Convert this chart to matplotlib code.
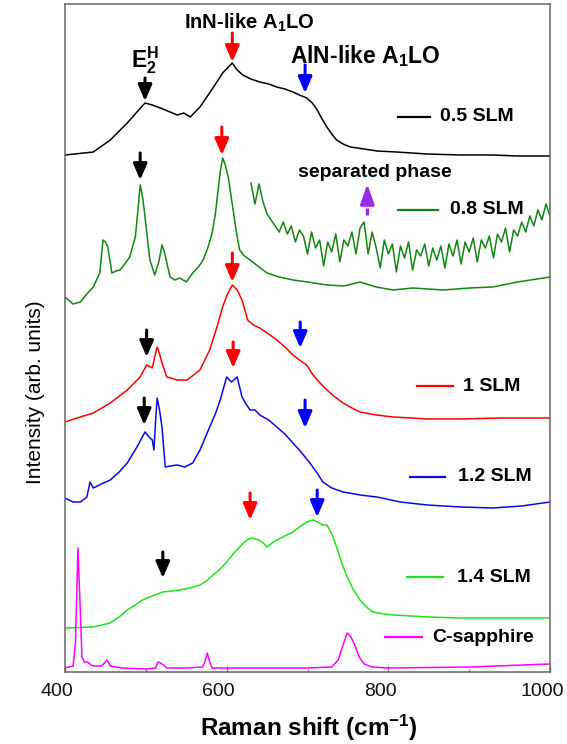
import matplotlib
matplotlib.use('Agg')
import matplotlib.pyplot as plt
import matplotlib.transforms as mtransforms

plt.rcParams['font.family'] = ['Liberation Sans', 'DejaVu Sans']
plt.rcParams['mathtext.fontset'] = 'custom'
plt.rcParams['mathtext.rm'] = 'Liberation Sans'
plt.rcParams['mathtext.bf'] = 'Liberation Sans:bold'
plt.rcParams['mathtext.it'] = 'Liberation Sans:italic'

# ---------------- data (Raman shift in cm^-1, stacked intensity in arb. units) -------------
wn_05 = [400, 435, 456, 477, 489, 499, 508, 518, 530, 539, 547, 555, 567, 583, 595, 607,
         613, 620, 630, 641, 652, 662, 672, 682, 690, 699, 706, 712, 718, 724, 730, 736,
         744, 753, 770, 786, 810, 848, 890, 929, 960, 1000]
int_05 = [517, 520, 532, 549, 560, 569, 567, 564, 560, 557, 559, 555, 565, 584, 599, 609,
          602, 597, 593, 590, 588, 585, 583, 580, 577, 574, 569, 562, 553, 545, 538, 532,
          528, 525, 523, 521, 520, 518, 517, 517, 516, 516]

wn_08 = [400, 410, 419, 427, 435, 443, 447, 450, 453, 458, 463, 468, 474, 480, 487, 490,
         493, 496, 499, 505, 511, 516, 520, 523, 526, 530, 536, 542, 550, 558, 565, 571,
         577, 582, 586, 589, 592, 595, 598, 602, 605, 608, 612, 616, 622, 629, 640, 650,
         665, 682, 700, 724, 745, 765, 785, 806, 830, 868, 900, 929, 960, 1000]
int_08 = [375, 368, 370, 378, 385, 399, 432, 430, 425, 399, 401, 402, 408, 415, 435, 460,
          487, 475, 455, 412, 397, 410, 427, 420, 409, 395, 392, 394, 390, 399, 405, 412,
          425, 439, 458, 479, 500, 514, 508, 495, 478, 462, 440, 422, 416, 412, 405, 399,
          395, 392, 390, 387, 386, 390, 385, 382, 384, 382, 384, 385, 390, 395]

wn_08_zoom = [630, 635, 640, 645, 650, 655, 660, 665, 670, 675, 680, 685, 690, 695, 700,
              705, 710, 715, 720, 725, 730, 735, 740, 745, 750, 755, 760, 765, 770, 775,
              780, 785, 790, 795, 800, 805, 810, 815, 820, 825, 830, 835, 840, 845, 850,
              855, 860, 865, 870, 875, 880, 885, 890, 895, 900, 905, 910, 915, 920, 925,
              930, 935, 940, 945, 950, 955, 960, 965, 970, 975, 980, 985, 990, 995, 1000]
int_08_zoom = [489, 468, 488, 470, 458, 452, 446, 440, 450, 438, 446, 430, 442, 436, 418,
               440, 424, 432, 406, 430, 420, 438, 410, 432, 426, 440, 418, 444, 450, 418,
               440, 424, 404, 432, 418, 428, 400, 426, 414, 430, 402, 422, 416, 428, 406,
               424, 412, 426, 404, 428, 416, 432, 408, 430, 420, 434, 410, 432, 424, 436,
               414, 438, 430, 444, 420, 442, 436, 450, 440, 456, 446, 462, 452, 468, 456]

wn_10 = [400, 415, 435, 456, 477, 493, 501, 508, 511, 514, 517, 520, 526, 539, 551, 567,
         579, 588, 595, 601, 607, 613, 619, 626, 633, 641, 652, 662, 672, 682, 690, 699,
         706, 712, 718, 724, 734, 744, 755, 765, 785, 806, 850, 889, 940, 1000]
int_10 = [250, 254, 259, 269, 282, 295, 307, 304, 315, 325, 318, 309, 295, 292, 292, 302,
          322, 345, 365, 378, 387, 382, 372, 352, 347, 344, 338, 332, 325, 317, 312, 307,
          298, 292, 287, 282, 275, 269, 264, 260, 257, 255, 253, 253, 254, 254]

wn_12 = [400, 410, 419, 427, 431, 435, 445, 456, 467, 477, 489, 499, 504, 508, 510, 512,
         514, 517, 520, 524, 530, 539, 548, 558, 567, 579, 586, 592, 600, 606, 613, 619,
         624, 629, 635, 641, 652, 662, 672, 682, 692, 703, 711, 719, 730, 744, 765, 786,
         815, 848, 890, 929, 965, 1000]
int_12 = [174, 170, 170, 175, 190, 184, 188, 192, 200, 209, 225, 240, 235, 232, 222, 250,
          274, 262, 245, 205, 206, 207, 205, 209, 222, 245, 258, 272, 295, 290, 295, 275,
          268, 262, 262, 257, 252, 245, 238, 229, 220, 209, 200, 190, 184, 180, 177, 175,
          170, 167, 165, 164, 166, 170]

wn_14 = [400, 435, 456, 467, 477, 487, 496, 508, 521, 532, 542, 555, 567, 575, 583, 592,
         600, 608, 616, 622, 629, 637, 644, 650, 656, 662, 672, 682, 690, 699, 707, 713,
         719, 724, 730, 736, 742, 749, 757, 765, 773, 781, 795, 806, 850, 889, 940, 1000]
int_14 = [44, 45, 49, 55, 62, 67, 72, 76, 80, 81, 82, 84, 87, 91, 97, 103,
          110, 118, 125, 130, 134, 133, 130, 125, 129, 132, 136, 140, 145, 150, 152, 150,
          147, 147, 138, 125, 110, 95, 82, 72, 65, 60, 58, 57, 55, 54, 54, 54]

wn_sap = [400, 410, 413, 416, 419, 421, 424, 428, 432, 436, 445, 449, 452, 456, 470, 500,
          512, 515, 518, 522, 526, 550, 570, 573, 576, 579, 582, 600, 650, 700, 730, 738,
          744, 749, 753, 758, 764, 770, 780, 800, 900, 1000]
int_sap = [4, 6, 30, 124, 60, 15, 10, 10, 7, 6, 6, 9, 12, 6, 4, 3,
           4, 10, 9, 7, 4, 4, 5, 10, 19, 10, 4, 4, 4, 4, 5, 12,
           27, 39, 36, 28, 15, 8, 5, 4, 5, 8]

labels = ['0.5 SLM', '0.8 SLM', '1 SLM', '1.2 SLM', '1.4 SLM', 'C-sapphire']
colors = ['#000000', '#138513', '#ff0000', '#0a0ae6', '#22e022', '#ff00ff']
x_ticks = [400, 600, 800, 1000]

# ---------------- figure ----------------
fig = plt.figure(figsize=(5.67, 7.44), dpi=100)
ax = fig.add_axes([65 / 567, 1 - 672 / 744, 485 / 567, 668 / 744])

series = [(wn_05, int_05), (wn_08, int_08), (wn_10, int_10),
          (wn_12, int_12), (wn_14, int_14), (wn_sap, int_sap)]
for (xs, ys), c in zip(series, colors):
    ax.plot(xs, ys, color=c, lw=1.1)
ax.plot(wn_08_zoom, int_08_zoom, color=colors[1], lw=1.1)

ax.set_xlim(400, 1000)
ax.set_ylim(0, 668)
ax.set_yticks([])
ax.set_xticks(x_ticks)
ax.set_xticks([500, 700, 900], minor=True)
ax.tick_params(axis='x', which='major', direction='in', length=4, width=1,
               color='#777777', labelsize=14, pad=8, labelcolor='#111111')
ax.tick_params(axis='x', which='minor', direction='in', length=2.5, width=1, color='#777777')
for sp in ax.spines.values():
    sp.set_color('#666666')
    sp.set_linewidth(1.1)
offset = mtransforms.ScaledTranslation(-8 / 100, 0, fig.dpi_scale_trans)
for lab in ax.get_xticklabels():
    lab.set_transform(lab.get_transform() + offset)

fig.text(309 / 567, 1 - 736 / 744, r'Raman shift (cm$^{\mathbf{-1}}$)', fontsize=17.5,
         fontweight='bold', ha='center', va='baseline')
fig.text(36 / 567, 1 - 392 / 744, 'Intensity (arb. units)', rotation=90, fontsize=15,
         ha='center', va='center')

# ---------------- legend entries ----------------
leg = [((0.687, 0.753), 0.831, 0.773),
       ((0.687, 0.769), 0.692, 0.794),
       ((0.726, 0.800), 0.428, 0.821),
       ((0.711, 0.784), 0.292, 0.810),
       ((0.705, 0.779), 0.142, 0.808),
       ((0.660, 0.736), 0.052, 0.757)]
for (x0x1, yy, tx), lab, c in zip(leg, labels, colors):
    ax.plot(list(x0x1), [yy, yy], color=c, lw=1.6, transform=ax.transAxes, clip_on=False)
    ax.text(tx, yy, lab, transform=ax.transAxes, fontsize=14, fontweight='bold',
            va='center', ha='left')

# ---------------- arrows ----------------
def arrow(x, tail, tip, c):
    ax.annotate('', xy=(x, tip), xytext=(x, tail),
                arrowprops=dict(arrowstyle='-|>,head_width=0.28,head_length=0.65',
                                color=c, lw=2.2, shrinkA=0, shrinkB=0, mutation_scale=15))

arrow(499, 594, 571, 'black'); arrow(607, 639, 610, 'red'); arrow(697, 607, 579, 'blue')
arrow(493, 519, 492, 'black'); arrow(594, 545, 517, 'red')
arrow(607, 419, 390, 'red'); arrow(501, 342, 315, 'black'); arrow(691, 350, 324, 'blue')
arrow(608, 330, 304, 'red'); arrow(498, 274, 247, 'black'); arrow(697, 272, 244, 'blue')
arrow(629, 179, 152, 'red'); arrow(712, 182, 155, 'blue'); arrow(521, 120, 94, 'black')

purple = '#9a2be8'
ax.plot([774, 774], [457, 464], color=purple, lw=2.4, solid_capstyle='butt')
ax.plot([774, 774], [468, 474], color=purple, lw=2.4, solid_capstyle='butt')
ax.annotate('', xy=(774, 488), xytext=(774, 476),
            arrowprops=dict(arrowstyle='-|>,head_width=0.28,head_length=0.8',
                            color=purple, lw=2.2, shrinkA=0, shrinkB=0, mutation_scale=15))

# ---------------- annotation text ----------------
ax.text(499, 612, r'$\mathbf{E}_{\mathbf{2}}^{\mathbf{H}}$', fontsize=16.5, ha='center', va='center')
ax.text(628, 643.5, r'InN-like A$_{\mathbf{1}}$LO', fontsize=14.5, fontweight='bold',
        ha='center', va='baseline')
ax.text(772, 609, r'AlN-like A$_{\mathbf{1}}$LO', fontsize=16.5, fontweight='bold',
        ha='center', va='baseline')
ax.text(783, 495, 'separated phase', fontsize=14, fontweight='bold', ha='center', va='baseline')

fig.savefig('out.png', dpi=100)
